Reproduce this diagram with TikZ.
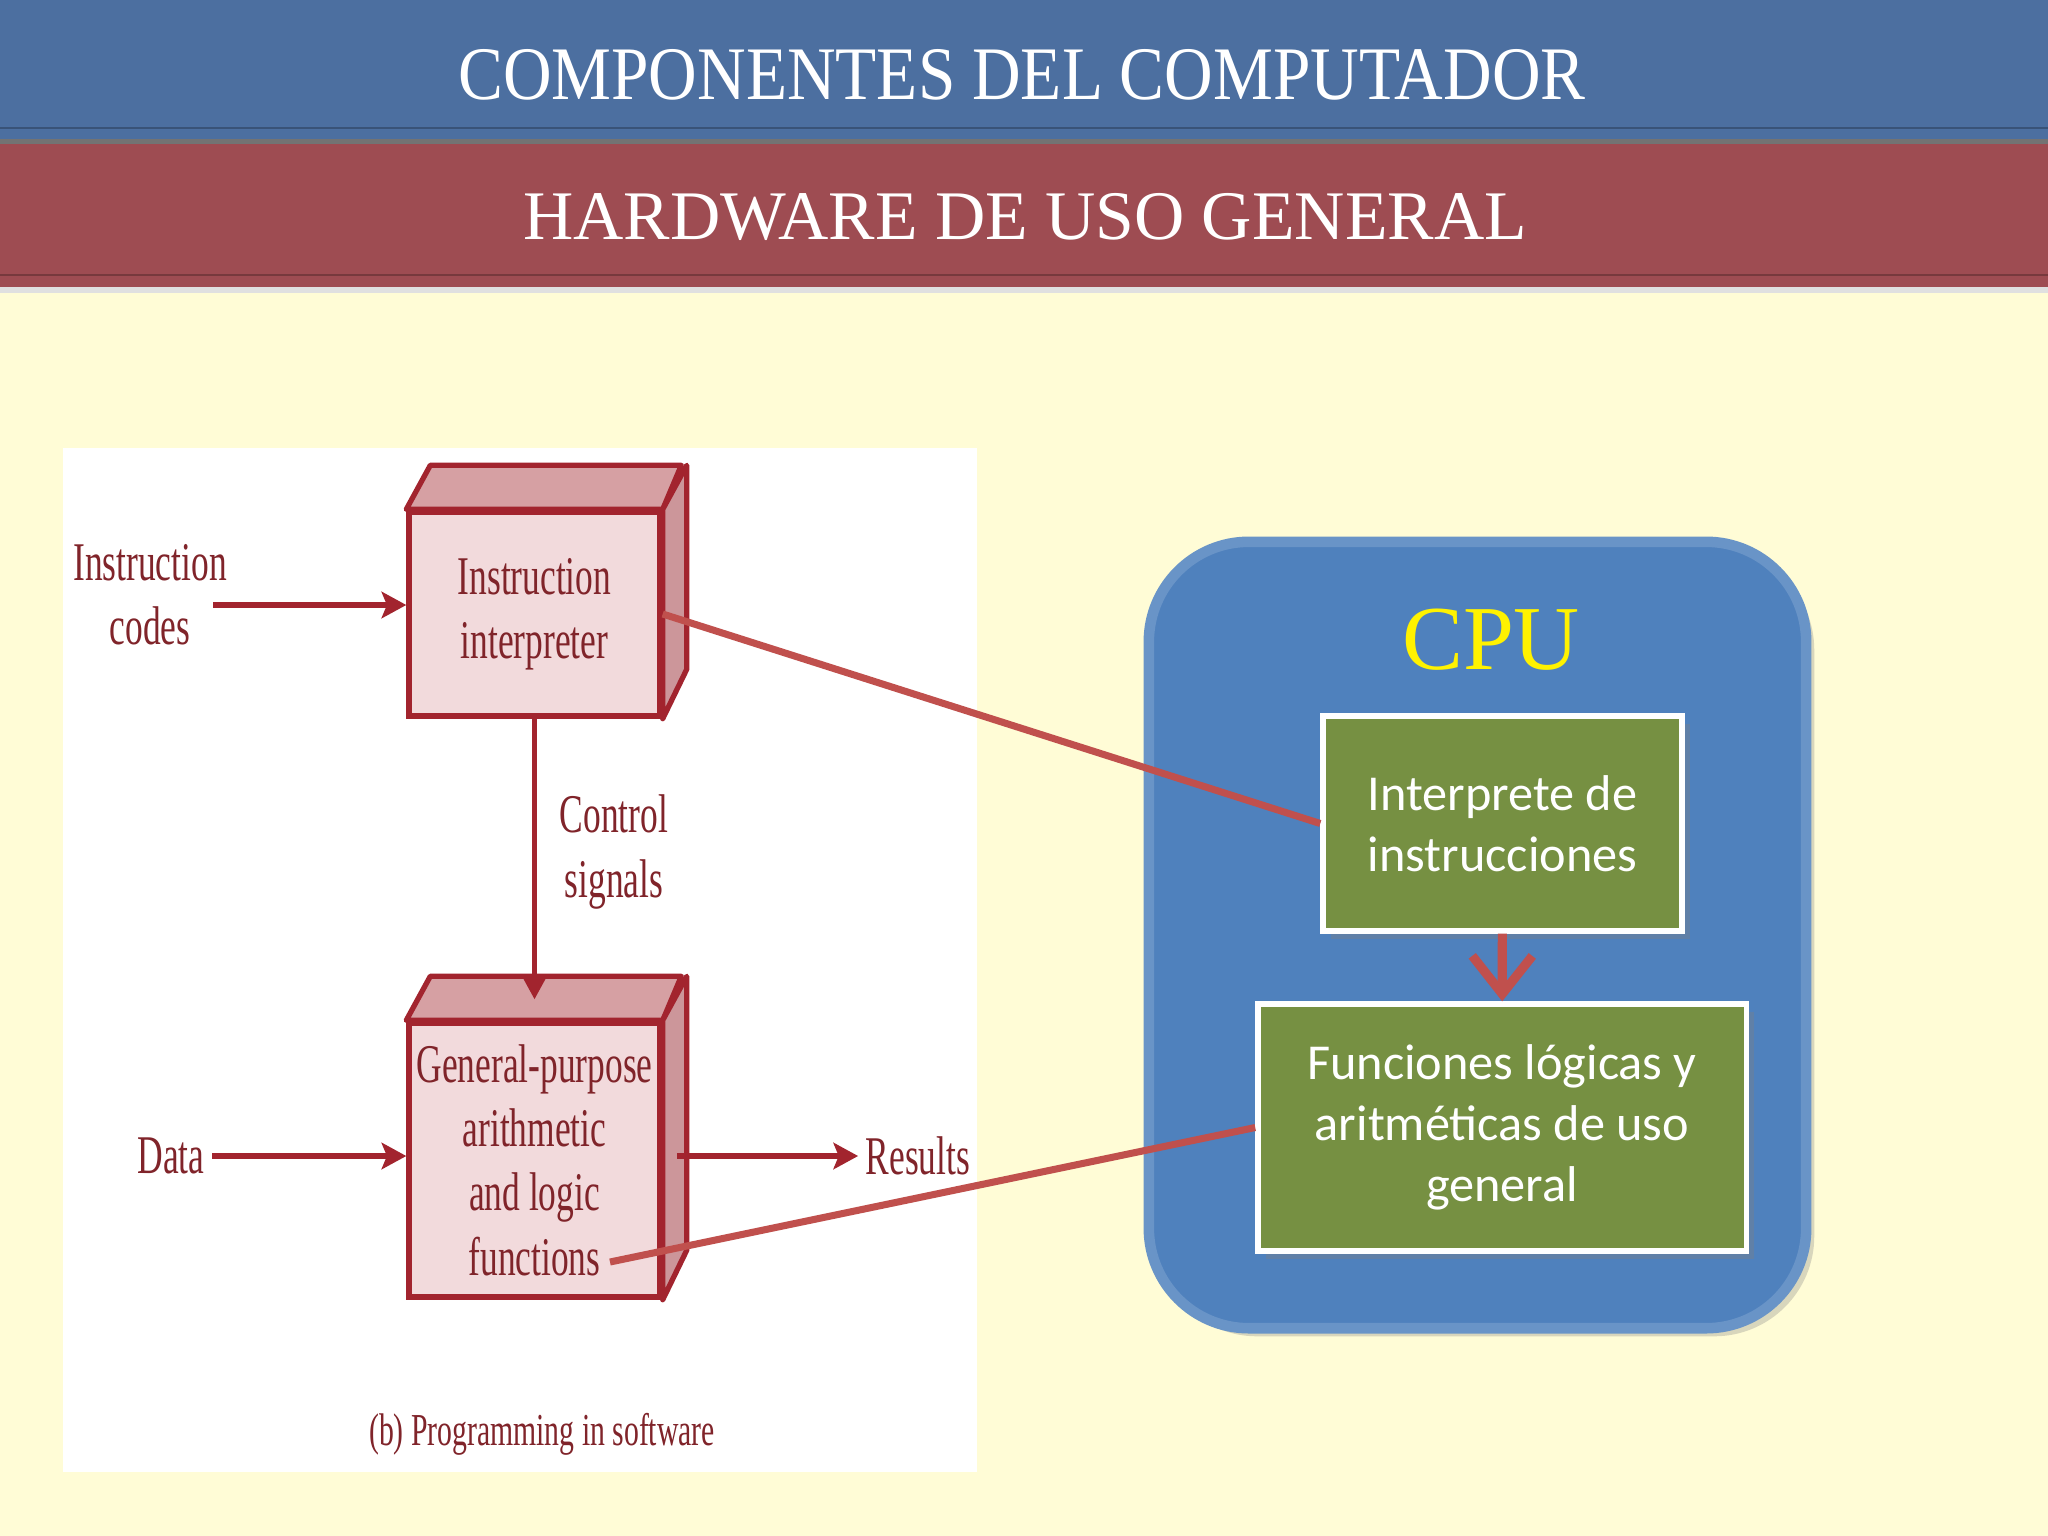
\documentclass[tikz,border=0pt]{standalone}
\usepackage{fontspec}
\usepackage{xcolor}
\usepackage{tikz}
\usetikzlibrary{arrows.meta,positioning,shadows}
\setmainfont{Liberation Serif}
\newfontfamily\condfont[FakeStretch=0.65]{Liberation Serif}
\newfontfamily\headfont[FakeStretch=0.89]{Liberation Serif}
\newfontfamily\headfontb{Liberation Serif}
\newfontfamily\slidefont{Carlito}
\definecolor{cream}{RGB}{255,252,214}
\definecolor{bluebar}{RGB}{76,111,160}
\definecolor{redbar}{RGB}{158,76,82}
\definecolor{dred}{RGB}{162,36,46}
\definecolor{dtxt}{RGB}{128,36,42}
\definecolor{facef}{RGB}{242,218,220}
\definecolor{topf}{RGB}{214,160,163}
\definecolor{sidef}{RGB}{204,150,154}
\definecolor{cpub}{RGB}{79,129,189}
\definecolor{grn}{RGB}{118,144,66}
\definecolor{lred}{RGB}{192,80,77}

\begin{document}
\begin{tikzpicture}[x=0.01cm,y=-0.01cm,
  fb/.style={draw=dred,line width=1.5pt,fill=facef,minimum width=2.51cm,inner sep=1pt,align=center,
    text=dtxt,font=\condfont\fontsize{15.5}{18.3}\selectfont},
  face/.style={draw=dred,line width=1.5pt,line join=round},
  lb/.style={inner sep=2pt,align=center,text=dtxt,font=\condfont\fontsize{15.5}{18.3}\selectfont},
  ar/.style={draw=dred,line width=1.5pt,-{Stealth[length=7pt,width=7.5pt,inset=1.5pt]}},
  gb/.style={draw=white,line width=1.5pt,fill=grn,text=white,align=center,
    font=\slidefont\fontsize{14.3}{17.4}\selectfont,drop shadow={opacity=0.35}},
  big/.style={draw=lred,line width=2.6pt,-{Straight Barb[length=3.8mm,width=6mm]}},
  link/.style={draw=lred,line width=2pt}]
\useasboundingbox (0,0) rectangle (2048,1536);
\fill[cream] (0,0) rectangle (2048,1536);
\fill[bluebar] (0,0) rectangle (2048,140);
\draw[bluebar!75!black,line width=0.8pt] (0,128) -- (2048,128);
\fill[redbar] (0,143) rectangle (2048,287);
\draw[redbar!75!black,line width=0.8pt] (0,275) -- (2048,275);
\fill[black!55] (0,139) rectangle (2048,144);
\fill[black!12] (0,287) rectangle (2048,293);
\node[text=white,font=\headfont\fontsize{21.5}{24}\selectfont] (t1) at (1022,75) {COMPONENTES DEL COMPUTADOR};
\node[text=white,font=\headfontb\fontsize{19.8}{22}\selectfont] (t2) at (1025,217) {HARDWARE DE USO GENERAL};

\fill[white] (63,448) rectangle (977,1472);
\node[fb,minimum height=2.04cm] (ii) at (534.5,614) {Instruction\\interpreter};
\draw[face,fill=topf] (ii.north west) -- ++(24,-44) -- ++(251,0) -- (ii.north east) -- cycle;
\draw[face,fill=sidef] (ii.north east) -- ++(24,-44) -- ++(0,204) -- (ii.south east) -- cycle;
\node[fb,minimum height=2.74cm] (gp) at (534.5,1160) {General-purpose\\arithmetic\\and logic\\functions};
\draw[face,fill=topf] (gp.north west) -- ++(24,-44) -- ++(251,0) -- (gp.north east) -- cycle;
\draw[face,fill=sidef] (gp.north east) -- ++(24,-44) -- ++(0,274) -- (gp.south east) -- cycle;
\node[lb] (codes) at (150,595) {Instruction\\codes};
\node[lb] (ctl) at (614,852) {Control\\signals};
\node[lb] (data) at (171,1156) {Data};
\node[lb] (res) at (918,1156) {Results};
\node[lb,font=\condfont\fontsize{13}{15}\selectfont] (cap) at (542,1434) {(b) Programming in software};
\draw[ar] ([xshift=-6pt]codes.east |- 0,605) -- (ii.west |- 0,605);
\draw[ar,shorten >=6pt] (ii.south) -- (gp.north);
\draw[ar] (data.east) -- (data.east -| gp.west);
\draw[ar,shorten <=4pt] (gp.east |- res.west) -- (res.west);

\node[fill=cpub,draw=cpub!85!white,line width=3pt,rounded corners=1cm,minimum width=6.57cm,minimum height=7.86cm,
  drop shadow={opacity=0.3}] (cpu) at (1477.5,935) {};
\node[text=yellow,font=\fontsize{26}{30}\selectfont] (cput) at (1491,640) {CPU};
\node[gb,minimum width=3.59cm,minimum height=2.15cm] (ig) at (1502.5,823.5) {Interprete de\\instrucciones};
\node[gb,minimum width=4.88cm,minimum height=2.47cm] (fg) at (1502,1127.5) {Funciones lógicas y\\aritméticas de uso\\general};
\draw[big] (ig) -- (fg);
\coordinate (fn) at (610,1262);
\draw[link] (ii.east) -- (ig.west);
\draw[link] (fn) -- (fg.west);
\end{tikzpicture}
\end{document}
